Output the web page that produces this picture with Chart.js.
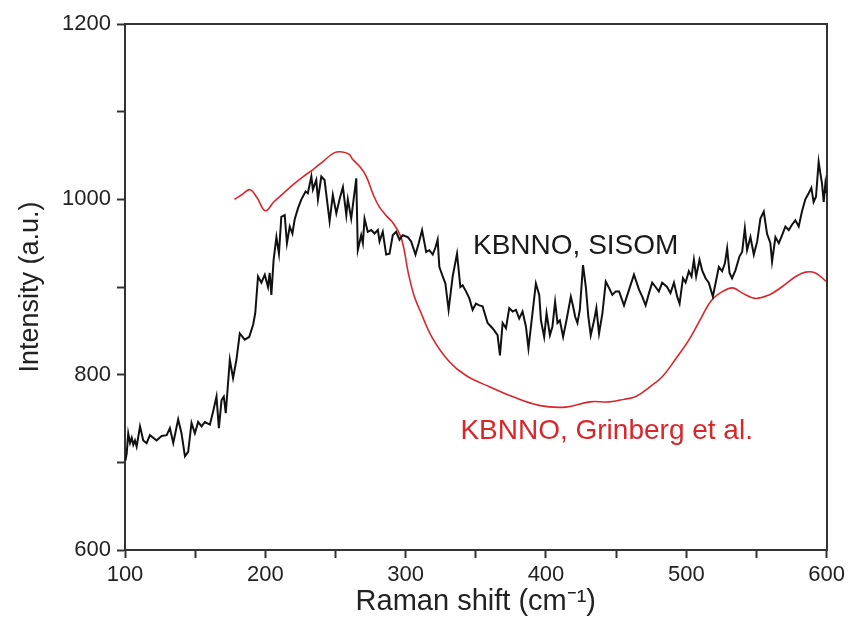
<!DOCTYPE html>
<html>
<head>
<meta charset="utf-8">
<script src="https://cdn.jsdelivr.net/npm/chart.js@4.4.0/dist/chart.umd.min.js"></script>
<style>
  body { margin: 0; background: #fff; }
  canvas { display: block; }
</style>
</head>
<body>
<canvas id="ramanChart" width="849" height="635"></canvas>
<script>
var sisomShift = [100.3, 101.2, 102.3, 103.6, 104.8, 105.9, 107.1, 108.3, 110.7, 113.0, 115.4, 117.8, 122.5, 126.1, 129.7,
  132.0, 134.4, 137.9, 140.3, 142.7, 145.0, 147.4, 149.8, 152.1, 154.6, 156.9, 160.5, 162.8, 165.2, 166.9,
  168.8, 170.4, 171.8, 174.7, 177.0, 179.4, 181.8, 185.3, 188.5, 191.3, 192.8, 194.8, 197.2, 199.6, 201.9,
  203.1, 204.3, 205.9, 207.9, 209.7, 211.4, 213.8, 215.4, 217.4, 219.3, 220.9, 223.3, 225.7, 228.7, 230.3,
  232.8, 233.9, 236.3, 237.5, 239.9, 242.2, 245.8, 248.1, 250.6, 252.9, 255.3, 257.7, 258.8, 261.2, 264.8,
  265.9, 268.3, 269.5, 270.7, 273.0, 275.5, 277.8, 280.2, 281.4, 283.7, 286.1, 288.5, 290.8, 293.2, 295.6,
  297.9, 301.5, 303.9, 307.0, 309.3, 311.7, 314.6, 316.9, 319.3, 321.2, 322.8, 324.0, 326.4, 328.3, 330.6,
  333.5, 336.6, 339.0, 340.6, 343.0, 345.4, 347.7, 350.1, 352.5, 354.8, 358.4, 361.9, 365.5, 367.2, 369.1,
  371.5, 373.8, 376.2, 378.6, 380.9, 383.3, 385.7, 387.5, 389.3, 392.8, 395.2, 396.4, 398.7, 400.4, 402.8,
  404.6, 406.5, 408.2, 409.9, 412.2, 414.6, 417.7, 419.3, 420.8, 422.4, 424.1, 426.4, 428.4, 430.2, 431.9,
  434.3, 435.9, 437.8, 440.2, 442.6, 444.9, 447.3, 449.7, 452.1, 455.6, 459.2, 462.7, 466.3, 468.6, 471.0,
  473.4, 475.7, 478.1, 480.4, 482.8, 486.3, 488.7, 491.2, 493.5, 495.2, 497.6, 499.5, 501.8, 503.7, 505.4,
  507.0, 509.4, 511.3, 513.7, 516.0, 518.9, 521.3, 523.2, 525.5, 527.5, 529.1, 530.8, 532.6, 535.0, 537.9,
  539.8, 541.7, 543.3, 545.7, 548.1, 550.5, 552.8, 555.2, 557.5, 559.9, 561.1, 563.5, 565.9, 568.2, 570.6,
  573.0, 575.3, 577.7, 580.1, 582.4, 584.8, 587.2, 589.1, 590.7, 592.4, 594.3, 595.5, 596.7, 597.9, 599.1, 600.0];
var sisomIntensity = [702, 710, 733, 722, 728, 720, 725, 718, 741, 725, 722, 731, 725, 730, 731,
  739, 722, 749, 733, 707, 712, 745, 733, 746, 741, 746, 743, 758, 775, 739,
  771, 775, 756, 817, 796, 817, 847, 840, 843, 857, 870, 912, 905, 914, 900,
  916, 891, 931, 957, 938, 980, 982, 950, 969, 961, 977, 990, 1000, 1009, 1007,
  1026, 1011, 1022, 1000, 1026, 1022, 975, 1005, 984, 1000, 1014, 982, 1000, 978, 1024,
  942, 959, 950, 978, 963, 965, 961, 965, 952, 963, 937, 938, 959, 963, 954,
  959, 957, 952, 937, 950, 965, 940, 942, 937, 945, 954, 923, 912, 904, 874,
  912, 938, 900, 902, 895, 887, 874, 881, 879, 878, 859, 853, 845, 822, 859,
  853, 876, 872, 874, 864, 872, 855, 830, 855, 904, 891, 862, 843, 870, 845,
  855, 883, 859, 862, 843, 862, 889, 878, 866, 859, 874, 925, 900, 866, 845,
  862, 876, 847, 870, 906, 899, 891, 895, 895, 879, 897, 914, 897, 889, 879,
  893, 905, 900, 895, 905, 900, 893, 905, 889, 881, 910, 905, 918, 912, 931,
  912, 931, 919, 910, 905, 889, 908, 923, 918, 927, 944, 916, 910, 919, 935,
  940, 967, 942, 957, 937, 952, 978, 986, 961, 950, 929, 957, 950, 959, 969,
  965, 971, 976, 969, 986, 1000, 1007, 1013, 997, 1003, 1043, 1030, 1018, 997, 1018, 1007];

// literature spectrum (Grinberg et al.)
var grinbergShift = [178, 183, 189, 194, 200, 206, 213, 220, 227, 234, 241, 249, 255, 260, 262,
  268, 272, 277, 281, 287, 291, 297, 302, 306, 310, 319, 331, 343, 360, 376,
  395, 414, 431, 445, 456, 464, 474, 483, 492, 502, 511, 518, 526, 533, 540,
  549, 559, 568, 578, 585, 592, 600];
var grinbergIntensity = [1000, 1005, 1011, 1002, 987, 997, 1007, 1017, 1026, 1034, 1043, 1053, 1054, 1051, 1046,
  1036, 1026, 1005, 992, 980, 973, 955, 915, 890, 874, 842, 815, 799, 786, 775,
  765, 763, 769, 769, 772, 775, 786, 798, 817, 840, 866, 885, 895, 899, 893,
  887, 891, 900, 912, 917, 916, 906];

var xTicks = [100, 200, 300, 400, 500, 600];
var yTicks = [600, 800, 1000, 1200];

// text labels next to the curves: [text, shift, intensity, colour]
var curveLabels = [
  ['KBNNO, SISOM', 348, 946, '#1a1a1a'],
  ['KBNNO, Grinberg et al.', 339, 735, '#d9262b']
];

function toPoints(xs, ys) {
  var pts = [];
  for (var i = 0; i < xs.length; i++) pts.push({x: xs[i], y: ys[i]});
  return pts;
}

Chart.defaults.font.family = "'Liberation Sans', Arial, sans-serif";
Chart.defaults.color = '#222';

var labelPlugin = {
  id: 'curveLabels',
  afterDatasetsDraw: function(chart) {
    var ctx = chart.ctx;
    ctx.save();
    ctx.font = "28px 'Liberation Sans', Arial, sans-serif";
    ctx.textBaseline = 'middle';
    ctx.textAlign = 'left';
    curveLabels.forEach(function(l) {
      ctx.fillStyle = l[3];
      ctx.fillText(l[0], chart.scales.x.getPixelForValue(l[1]), chart.scales.y.getPixelForValue(l[2]));
    });
    ctx.restore();
  }
};

var axisColor = '#333';

new Chart(document.getElementById('ramanChart'), {
  type: 'line',
  data: {
    datasets: [{
      data: toPoints(sisomShift, sisomIntensity),
      borderColor: '#111',
      borderWidth: 2,
      pointRadius: 0,
      tension: 0,
      fill: false
    },
    {
      data: toPoints(grinbergShift, grinbergIntensity),
      borderColor: '#d9262b',
      borderWidth: 1.6,
      pointRadius: 0,
      tension: 0.4,
      fill: false
    }]
  },
  options: {
    responsive: false,
    animation: false,
    devicePixelRatio: 1,
    layout: { padding: 0 },
    plugins: { legend: { display: false }, tooltip: { enabled: false } },
    scales: {
      x: {
        type: 'linear',
        position: 'bottom',
        min: 100,
        max: 600,
        afterBuildTicks: function(s) {
          s.ticks = [];
          for (var v = 100; v <= 600; v += 50) s.ticks.push({value: v});
        },
        ticks: {
          autoSkip: false,
          maxRotation: 0,
          padding: 4,
          font: { size: 22 },
          callback: function(v) { return xTicks.indexOf(v) >= 0 ? String(v) : ''; }
        },
        grid: { drawOnChartArea: false, tickLength: 8, color: axisColor, tickWidth: 2 },
        border: { color: axisColor, width: 2 },
        title: { display: true, text: 'Raman shift (cm⁻¹)', font: { size: 29 }, padding: { top: 0, bottom: 16 } },
        afterFit: function(s) { s.height = 85; }
      },
      y: {
        type: 'linear',
        position: 'left',
        min: 600,
        max: 1200,
        afterBuildTicks: function(s) {
          s.ticks = [];
          for (var v = 600; v <= 1200; v += 100) s.ticks.push({value: v});
        },
        ticks: {
          autoSkip: false,
          padding: 6,
          font: { size: 22 },
          callback: function(v) { return yTicks.indexOf(v) >= 0 ? String(v) : ''; }
        },
        grid: { drawOnChartArea: false, tickLength: 8, color: axisColor, tickWidth: 2 },
        border: { color: axisColor, width: 2 },
        title: { display: true, text: 'Intensity (a.u.)', font: { size: 27 }, padding: { top: 14, bottom: 4 } },
        afterFit: function(s) { s.width = 125; }
      },
      x2: {
        type: 'linear',
        position: 'top',
        min: 100,
        max: 600,
        ticks: { display: false },
        grid: { drawOnChartArea: false, drawTicks: false },
        border: { color: axisColor, width: 2 },
        afterFit: function(s) { s.height = 24; }
      },
      y2: {
        type: 'linear',
        position: 'right',
        min: 600,
        max: 1200,
        ticks: { display: false },
        grid: { drawOnChartArea: false, drawTicks: false },
        border: { color: axisColor, width: 2 },
        afterFit: function(s) { s.width = 21; }
      }
    }
  },
  plugins: [labelPlugin]
});
</script>
</body>
</html>
